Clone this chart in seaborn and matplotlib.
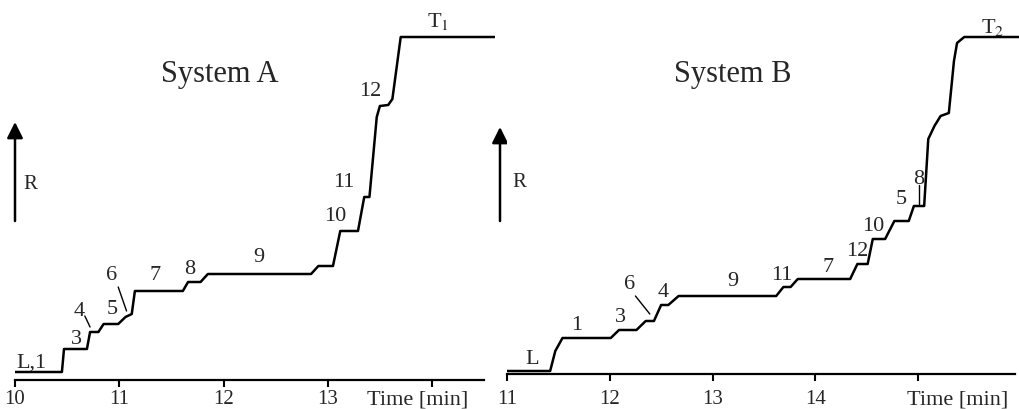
import matplotlib
matplotlib.use("Agg")
import matplotlib.pyplot as plt
import seaborn as sns

# ---- data (time in min, response in arbitrary units) ----
time_a = [10.00, 10.45, 10.47, 10.69, 10.72, 10.80, 10.85, 10.99, 11.06, 11.12, 11.15,
          11.61, 11.66, 11.78, 11.85, 12.84, 12.91, 13.05, 13.12, 13.29, 13.35, 13.40,
          13.47, 13.50, 13.58, 13.62, 13.70, 14.60]
resp_a = [0, 0, 23, 23, 40, 40, 48, 48, 55, 58, 81,
          81, 90, 90, 98, 98, 106, 106, 141, 141, 175, 175,
          255, 266, 267, 273, 335, 335]

time_b = [11.00, 11.42, 11.47, 11.54, 12.01, 12.09, 12.26, 12.35, 12.43, 12.50, 12.57,
          12.67, 13.62, 13.69, 13.76, 13.83, 14.34, 14.41, 14.51, 14.56, 14.68, 14.77,
          14.91, 14.96, 15.06, 15.10, 15.16, 15.22, 15.30, 15.35, 15.38, 15.45, 15.98]
resp_b = [0, 0, 20, 33, 33, 41, 41, 50, 50, 66, 66,
          75, 75, 84, 84, 92, 92, 107, 107, 132, 132, 150,
          150, 165, 165, 232, 245, 255, 258, 310, 328, 334, 334]

# peak labels: text, x (min), y (response)
labels_a = ["L,1", "3", "4", "5", "6", "7", "8", "9", "10", "11", "12", r"T$_1$"]
lab_x_a = [10.16, 10.59, 10.62, 10.93, 10.93, 11.34, 11.68, 12.34, 13.07, 13.15, 13.41, 14.06]
lab_y_a = [10, 33, 61, 63, 97, 97, 104, 115, 156, 190, 281, 351]

labels_b = ["L", "1", "3", "6", "4", "9", "11", "7", "12", "10", "5", "8", r"T$_2$"]
lab_x_b = [11.24, 11.68, 12.10, 12.19, 12.52, 13.20, 13.67, 14.12, 14.41, 14.56, 14.84, 15.01, 15.73]
lab_y_b = [12, 46, 54, 87, 79, 90, 96, 105, 120, 145, 172, 193, 345]

# leader lines (x0, y0, x1, y1)
leaders_a = [(10.67, 56, 10.72, 45), (10.99, 85, 11.07, 61)]
leaders_b = [(12.25, 75, 12.39, 57), (15.01, 186, 15.01, 167)]

ticks_a = [10, 11, 12, 13, 14]
ticks_b = [11, 12, 13, 14, 15]

sns.set_theme(style="white")
plt.rcParams["font.family"] = ["Liberation Serif", "DejaVu Serif"]
plt.rcParams["mathtext.fontset"] = "stix"

W, H = 1019, 410
fig = plt.figure(figsize=(W / 100, H / 100), dpi=100)

# left panel: x 10 at px 15, 104.25 px/min; baseline px 373, axis px 381
ax1 = fig.add_axes([15 / W, (H - 381) / H, (4.6 * 104.25) / W, 381 / H])
ax1.set_xlim(10, 14.6)
ax1.set_ylim(-8, 373)
# right panel: x 11 at px 507, 102.75 px/min; baseline px 372, axis px 375
ax2 = fig.add_axes([507 / W, (H - 375) / H, (4.98 * 102.75) / W, 375 / H])
ax2.set_xlim(11, 15.98)
ax2.set_ylim(-3, 372)

panels = [
    (ax1, time_a, resp_a, labels_a, lab_x_a, lab_y_a, leaders_a, ticks_a, 418, (10, 14.5), 1.5),
    (ax2, time_b, resp_b, labels_b, lab_x_b, lab_y_b, leaders_b, ticks_b, 958, (11, 15.94), 5.5),
]

for ax, tx, ry, labs, lx, ly, leads, ticks, tpx, bounds, pad in panels:
    sns.lineplot(x=tx, y=ry, ax=ax, color="black", lw=1.8, estimator=None, sort=False)
    for s in ["top", "right", "left"]:
        ax.spines[s].set_visible(False)
    ax.spines["bottom"].set_linewidth(1.6)
    ax.spines["bottom"].set_color("black")
    ax.spines["bottom"].set_bounds(*bounds)
    ax.set_yticks([])
    ax.set_xticks(ticks)
    ax.set_xticklabels([str(t) for t in ticks[:-1]] + [""])
    ax.tick_params(axis="x", direction="out", length=5, width=1.5, color="black",
                   labelsize=15, pad=pad, bottom=True)
    ax.set_xlabel("")
    ax.set_ylabel("")
    fig.text(tpx / W, 1 - 400 / H, "Time [min]", ha="center", va="center", fontsize=16)
    for t, x, y in zip(labs, lx, ly):
        ax.text(x, y, t, ha="center", va="center", fontsize=16)
    for x0, y0, x1, y1 in leads:
        ax.plot([x0, x1], [y0, y1], color="black", lw=1.0)

# panel titles
fig.text(220 / W, 1 - 82 / H, "System A", ha="center", va="baseline", fontsize=22)
fig.text(733 / W, 1 - 82 / H, "System B", ha="center", va="baseline", fontsize=22)

# response arrows
for px, ptop in [(15, 123), (500, 128)]:
    ax1.annotate("", xy=(px / W, 1 - ptop / H), xytext=(px / W, 1 - 222 / H),
                 xycoords="figure fraction", textcoords="figure fraction",
                 annotation_clip=False,
                 arrowprops=dict(arrowstyle="-|>", color="black", lw=1.8,
                                 mutation_scale=24, shrinkA=0, shrinkB=0))
fig.text(30 / W, 1 - 185 / H, "R", ha="center", va="center", fontsize=15)
fig.text(519 / W, 1 - 183 / H, "R", ha="center", va="center", fontsize=15)

fig.savefig("out.png", dpi=100)
